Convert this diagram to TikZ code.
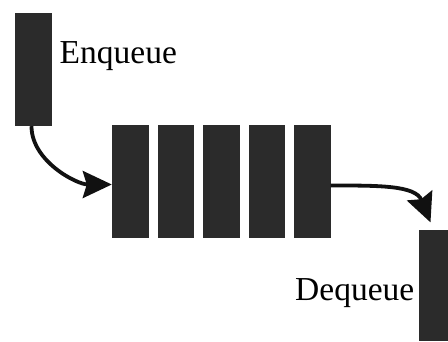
\documentclass[tikz,border=0pt]{standalone}
\usepackage{fontspec}
\setmainfont{Liberation Serif}
\usetikzlibrary{arrows.meta}
\definecolor{boxgray}{HTML}{2B2B2B}
\definecolor{arrowblack}{HTML}{111111}
\begin{document}
\begin{tikzpicture}[x=1pt,y=-1pt,
  cell/.style={fill=boxgray,draw=none,inner sep=0pt},
  conn/.style={draw=arrowblack,line width=3.8pt,-{Stealth[length=29pt,width=27pt,inset=4pt]}},
  lbl/.style={font=\fontsize{33.5}{38}\selectfont,inner sep=0pt,anchor=base west,text=black}]
\useasboundingbox (0,0) rectangle (448,341);
\path[fill=white] (0,0) rectangle (448,341);
\node[cell,minimum width=37pt,minimum height=113pt] (enq) at (33.5,69.5) {};
\node[cell,minimum width=36.5pt,minimum height=113pt] (q1) at (130.25,181.5) {};
\node[cell,minimum width=36.5pt,minimum height=113pt] (q2) at (175.75,181.5) {};
\node[cell,minimum width=36.5pt,minimum height=113pt] (q3) at (221.25,181.5) {};
\node[cell,minimum width=36.5pt,minimum height=113pt] (q4) at (266.75,181.5) {};
\node[cell,minimum width=36.5pt,minimum height=113pt] (q5) at (312.25,181.5) {};
\node[cell,minimum width=29pt,minimum height=111pt] (deq) at (433.5,285.5) {};
\node[lbl] (tenq) at (59.5,63) {Enqueue};
\node[lbl] (tdeq) at (295,300) {Dequeue};
\draw[conn] ([xshift=-2pt]enq.south) to[out=-90,in=180,looseness=0.9] ([yshift=-3pt]q1.west);
\draw[conn,shorten >=8pt] ([yshift=-4pt]q5.east) to[out=0,in=112,looseness=1.1] (deq.north);
\end{tikzpicture}
\end{document}
